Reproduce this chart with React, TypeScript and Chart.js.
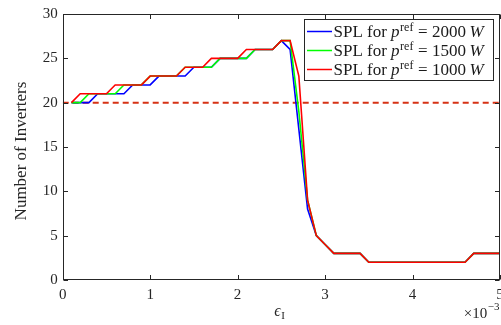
import { useEffect, useRef } from "react";
import { Chart, registerables } from "chart.js";

Chart.register(...registerables);

// epsilon_I in units of 1e-3
const xValues = [
  0.1, 0.2, 0.3, 0.4, 0.5, 0.6, 0.7, 0.8, 0.9, 1.0,
  1.1, 1.2, 1.3, 1.4, 1.5, 1.6, 1.7, 1.8, 1.9, 2.0,
  2.1, 2.2, 2.3, 2.4, 2.5, 2.6, 2.7, 2.8, 2.9, 3.0,
  3.1, 3.2, 3.3, 3.4, 3.5, 3.6, 3.7, 3.8, 3.9, 4.0,
  4.1, 4.2, 4.3, 4.4, 4.5, 4.6, 4.7, 4.8, 4.9, 5.0,
];
const spl2000 = [
  20, 20, 20, 21, 21, 21, 21, 22, 22, 22,
  23, 23, 23, 23, 24, 24, 24, 25, 25, 25,
  25, 26, 26, 26, 27, 26, 17, 8, 5, 4,
  3, 3, 3, 3, 2, 2, 2, 2, 2, 2,
  2, 2, 2, 2, 2, 2, 3, 3, 3, 3,
];
const spl1500 = [
  20, 20, 21, 21, 21, 21, 22, 22, 22, 23,
  23, 23, 23, 24, 24, 24, 24, 25, 25, 25,
  25, 26, 26, 26, 27, 27, 19, 9, 5, 4,
  3, 3, 3, 3, 2, 2, 2, 2, 2, 2,
  2, 2, 2, 2, 2, 2, 3, 3, 3, 3,
];
const spl1000 = [
  20, 21, 21, 21, 21, 22, 22, 22, 22, 23,
  23, 23, 23, 24, 24, 24, 25, 25, 25, 25,
  26, 26, 26, 26, 27, 27, 23, 9, 5, 4,
  3, 3, 3, 3, 2, 2, 2, 2, 2, 2,
  2, 2, 2, 2, 2, 2, 3, 3, 3, 3,
];
const thresholdX = [0, 5];
const thresholdY = [20, 20];
const xTicks = [0, 1, 2, 3, 4, 5];
const yTicks = [0, 5, 10, 15, 20, 25, 30];
const seriesPower = ["2000", "1500", "1000"];
const seriesColors = ["#0000ff", "#00ff00", "#ff0000"];

const SERIF = "'Liberation Serif', 'DejaVu Serif', serif";
const AXIS = "#262626";

const decorPlugin = {
  id: "decor",
  afterDraw(chart: any) {
    const { ctx, chartArea: a, scales } = chart;
    const xs = scales.x;
    const ys = scales.y;
    ctx.save();
    ctx.strokeStyle = AXIS;
    ctx.lineWidth = 1;
    const L = Math.round(a.left) + 0.5;
    const R = Math.round(a.right) - 0.5;
    const T = Math.round(a.top) + 0.5;
    const B = Math.round(a.bottom) - 0.5;
    ctx.strokeRect(L, T, R - L, B - T);
    const tl = 4.5;
    ctx.beginPath();
    for (const v of xTicks) {
      const px = Math.round(xs.getPixelForValue(v)) + 0.5;
      ctx.moveTo(px, B);
      ctx.lineTo(px, B - tl);
      ctx.moveTo(px, T);
      ctx.lineTo(px, T + tl);
    }
    for (const v of yTicks) {
      const py = Math.round(ys.getPixelForValue(v)) + 0.5;
      ctx.moveTo(L, py);
      ctx.lineTo(L + tl, py);
      ctx.moveTo(R, py);
      ctx.lineTo(R - tl, py);
    }
    ctx.stroke();

    // y title
    ctx.fillStyle = AXIS;
    ctx.textAlign = "center";
    ctx.textBaseline = "middle";
    ctx.save();
    ctx.translate(22, (a.top + a.bottom) / 2 + 4);
    ctx.rotate(-Math.PI / 2);
    ctx.font = `17px ${SERIF}`;
    ctx.fillText("Number of Inverters", 0, 0);
    ctx.restore();

    // x title epsilon_I
    ctx.textAlign = "left";
    ctx.textBaseline = "alphabetic";
    ctx.font = `italic 16px ${SERIF}`;
    const cx = (a.left + a.right) / 2;
    const ew = ctx.measureText("\u03F5").width;
    ctx.fillText("\u03F5", cx - 7, 316);
    ctx.font = `11px ${SERIF}`;
    ctx.fillText("I", cx - 7 + ew + 0.5, 319);

    // x exponent
    ctx.font = `15px ${SERIF}`;
    const mul = "\u00D710";
    const mw = ctx.measureText(mul).width;
    ctx.font = `11px ${SERIF}`;
    const sw = ctx.measureText("\u22123").width;
    const ex = a.right - 1 - mw - sw;
    ctx.font = `15px ${SERIF}`;
    ctx.fillText(mul, ex, 318);
    ctx.font = `11px ${SERIF}`;
    ctx.fillText("\u22123", ex + mw + 0.5, 310);

    // legend
    const bx = 304.5, by = 19.5, bw = 189, bh = 61;
    ctx.fillStyle = "#ffffff";
    ctx.fillRect(bx, by, bw, bh);
    ctx.strokeStyle = AXIS;
    ctx.lineWidth = 1;
    ctx.strokeRect(bx, by, bw, bh);
    const rows = [31.5, 50.5, 69.5];
    seriesPower.forEach((pw, i) => {
      const ry = rows[i];
      ctx.strokeStyle = seriesColors[i];
      ctx.lineWidth = 1.5;
      ctx.beginPath();
      ctx.moveTo(307, ry);
      ctx.lineTo(332, ry);
      ctx.stroke();
      ctx.fillStyle = "#1a1a1a";
      let tx = 333.5;
      const base = ry + 5.5;
      const piece = (s: string, font: string, dy = 0, gap = 0) => {
        ctx.font = font;
        ctx.fillText(s, tx, base + dy);
        tx += ctx.measureText(s).width + gap;
      };
      piece("SPL for ", `17px ${SERIF}`);
      piece("p", `italic 17px ${SERIF}`, 0, 0.5);
      piece("ref", `12px ${SERIF}`, -6.5, 4.5);
      piece("=", `17px ${SERIF}`, 0, 4.5);
      piece(pw, `17px ${SERIF}`, 0, 3.5);
      piece("W", `italic 17px ${SERIF}`);
    });
    ctx.restore();
  },
};

export default function App() {
  const ref = useRef<HTMLCanvasElement | null>(null);
  useEffect(() => {
    if (!ref.current) return;
    const toPts = (ys: number[]) => xValues.map((x, i) => ({ x, y: ys[i] }));
    const chart = new Chart(ref.current, {
      type: "line",
      data: {
        datasets: [
          {
            data: toPts(spl2000),
            borderColor: seriesColors[0],
            borderWidth: 1.6,
            pointRadius: 0,
            fill: false,
            order: 3,
          },
          {
            data: toPts(spl1500),
            borderColor: seriesColors[1],
            borderWidth: 1.6,
            pointRadius: 0,
            fill: false,
            order: 2,
          },
          {
            data: toPts(spl1000),
            borderColor: seriesColors[2],
            borderWidth: 1.6,
            pointRadius: 0,
            fill: false,
            order: 1,
          },
          {
            data: thresholdX.map((x, i) => ({ x, y: thresholdY[i] })),
            borderColor: "rgb(214,50,20)",
            borderWidth: 2,
            borderDash: [6, 4],
            pointRadius: 0,
            fill: false,
            order: 4,
          },
        ],
      },
      options: {
        animation: false,
        responsive: false,
        layout: { padding: { left: 0, right: 1, top: 14, bottom: 0 } },
        plugins: { legend: { display: false }, tooltip: { enabled: false } },
        scales: {
          x: {
            type: "linear",
            min: 0,
            max: 5,
            grid: { display: false, drawTicks: false },
            border: { display: false },
            ticks: {
              stepSize: 1,
              padding: 6,
              color: AXIS,
              font: { family: SERIF, size: 15 },
              maxRotation: 0,
            },
            afterFit(scale: any) {
              scale.height = 45;
              scale.paddingLeft = 0;
              scale.paddingRight = 0;
            },
          },
          y: {
            min: 0,
            max: 30,
            grid: { display: false, drawTicks: false },
            border: { display: false },
            ticks: {
              stepSize: 5,
              padding: 5,
              color: AXIS,
              font: { family: SERIF, size: 15 },
            },
            afterFit(scale: any) {
              scale.width = 62.7;
              scale.paddingTop = 0;
              scale.paddingBottom = 0;
            },
          },
        },
      },
      plugins: [decorPlugin],
    });
    return () => chart.destroy();
  }, []);
  return (
    <div style={{ position: "fixed", left: 0, top: 0, width: 501, height: 325, background: "#fff" }}>
      <canvas ref={ref} width={501} height={325} style={{ display: "block" }} />
    </div>
  );
}
